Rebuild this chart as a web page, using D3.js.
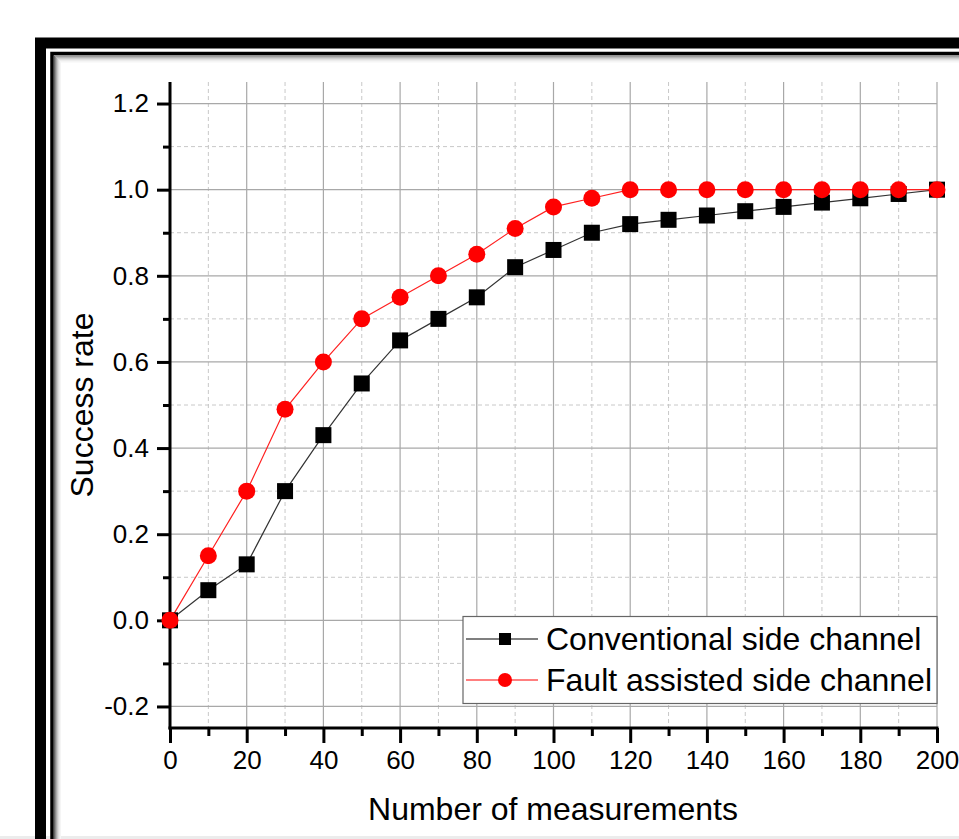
<!DOCTYPE html>
<html><head><meta charset="utf-8">
<script src="https://cdn.jsdelivr.net/npm/d3@7"></script>
<style>body{margin:0;background:#fff;}svg{display:block;font-family:Arial,"Liberation Sans",sans-serif;}</style>
</head><body>
<svg id="c" width="959" height="839"></svg>
<script>
const measurements = [0,10,20,30,40,50,60,70,80,90,100,110,120,130,140,150,160,170,180,190,200];
const conventional = [0,0.07,0.13,0.30,0.43,0.55,0.65,0.70,0.75,0.82,0.86,0.90,0.92,0.93,0.94,0.95,0.96,0.97,0.98,0.99,1.0];
const faultAssisted = [0,0.15,0.30,0.49,0.60,0.70,0.75,0.80,0.85,0.91,0.96,0.98,1.0,1.0,1.0,1.0,1.0,1.0,1.0,1.0,1.0];
const xTicks = [0,20,40,60,80,100,120,140,160,180,200];
const yTicks = [-0.2,0.0,0.2,0.4,0.6,0.8,1.0,1.2];
const seriesNames = ["Conventional side channel","Fault assisted side channel"];

const FONT = "Arial, 'Liberation Sans', sans-serif";
const svg = d3.select("#c");
svg.append("rect").attr("x",0).attr("y",836).attr("width",959).attr("height",3).attr("fill","#ececec");
svg.append("rect").attr("x",40.5).attr("y",43).attr("width",1000).attr("height",1000).attr("fill","none").attr("stroke","#000").attr("stroke-width",11);
svg.append("rect").attr("x",52).attr("y",53.5).attr("width",1000).attr("height",1000).attr("fill","none").attr("stroke","#000").attr("stroke-width",3.5);
const sh = ["#666","#8a8a8a","#aaa","#c6c6c6","#dcdcdc","#ebebeb","#f5f5f5"];
sh.forEach((c,i)=>{
  svg.append("rect").attr("x",54.5+i).attr("y",56+i).attr("width",1000).attr("height",1000).attr("fill","none").attr("stroke",c).attr("stroke-width",1);
});

const x = d3.scaleLinear().domain([0,200]).range([170,937]);
const y = d3.scaleLinear().domain([-0.25,1.25]).range([728,82]);

const g = svg.append("g");
const xMinor = d3.range(10,200,20);
const yMinor = d3.range(-0.1,1.25,0.2);
g.selectAll(".vm").data(xMinor).enter().append("line")
  .attr("x1",d=>x(d)).attr("x2",d=>x(d)).attr("y1",y(1.25)).attr("y2",y(-0.25))
  .attr("stroke","#c8c8c8").attr("stroke-dasharray","4,3").attr("stroke-width",1);
g.selectAll(".hm").data(yMinor).enter().append("line")
  .attr("y1",d=>y(d)).attr("y2",d=>y(d)).attr("x1",x(0)).attr("x2",x(200))
  .attr("stroke","#c8c8c8").attr("stroke-dasharray","4,3").attr("stroke-width",1);
g.selectAll(".vM").data(xTicks.slice(1)).enter().append("line")
  .attr("x1",d=>x(d)).attr("x2",d=>x(d)).attr("y1",y(1.25)).attr("y2",y(-0.25))
  .attr("stroke","#a8a8a8").attr("stroke-width",1.2);
g.selectAll(".hM").data(yTicks).enter().append("line")
  .attr("y1",d=>y(d)).attr("y2",d=>y(d)).attr("x1",x(0)).attr("x2",x(200))
  .attr("stroke","#a8a8a8").attr("stroke-width",1.2);

const fmtY = d => d3.format(".1f")(d).replace("\u2212","-");
const yAxis = d3.axisLeft(y).tickValues(yTicks).tickFormat(fmtY).tickSize(13).tickPadding(8);
const yAxisMinor = d3.axisLeft(y).tickValues(yMinor).tickFormat("").tickSize(7);
const xAxis = d3.axisBottom(x).tickValues(xTicks).tickFormat(d3.format("d")).tickSize(15).tickPadding(8);
const xAxisMinor = d3.axisBottom(x).tickValues(xMinor).tickFormat("").tickSize(8);

function style(sel){
  sel.attr("font-size",null).attr("font-family",null);
  sel.select(".domain").remove();
  sel.selectAll("line").attr("stroke","#000").attr("stroke-width",3);
  sel.selectAll("text").attr("fill","#000").style("font-size","26px").style("font-family",FONT);
}
svg.append("g").attr("transform",`translate(${x(0)},0)`).call(yAxis).call(style);
svg.append("g").attr("transform",`translate(${x(0)},0)`).call(yAxisMinor).call(style);
svg.append("g").attr("transform",`translate(0,${y(-0.25)})`).call(xAxis).call(style);
svg.append("g").attr("transform",`translate(0,${y(-0.25)})`).call(xAxisMinor).call(style);
svg.append("line").attr("x1",x(0)).attr("x2",x(0)).attr("y1",y(1.25)).attr("y2",y(-0.25)+1.5).attr("stroke","#000").attr("stroke-width",3);
svg.append("line").attr("x1",x(0)-1.5).attr("x2",x(200)+1.5).attr("y1",y(-0.25)).attr("y2",y(-0.25)).attr("stroke","#000").attr("stroke-width",3);

svg.append("text").attr("transform",`translate(93,${y(0.5)}) rotate(-90)`).attr("text-anchor","middle")
  .style("font-size","32px").style("font-family",FONT).attr("fill","#000").text("Success rate");
svg.append("text").attr("x",553).attr("y",820).attr("text-anchor","middle")
  .style("font-size","32px").style("font-family",FONT).attr("fill","#000").text("Number of measurements");

const line = d3.line().x((d,i)=>x(measurements[i])).y(d=>y(d));
svg.append("path").datum(conventional).attr("d",line).attr("fill","none").attr("stroke","#333").attr("stroke-width",1.2);
svg.append("path").datum(faultAssisted).attr("d",line).attr("fill","none").attr("stroke","#ff2020").attr("stroke-width",1.2);
svg.selectAll(".sq").data(conventional).enter().append("rect")
  .attr("x",(d,i)=>x(measurements[i])-8).attr("y",d=>y(d)-8).attr("width",16).attr("height",16).attr("fill","#000");
svg.selectAll(".ci").data(faultAssisted).enter().append("circle")
  .attr("cx",(d,i)=>x(measurements[i])).attr("cy",d=>y(d)).attr("r",8.5).attr("fill","#ff0000");

const lg = svg.append("g");
lg.append("rect").attr("x",463).attr("y",616.5).attr("width",474).attr("height",87).attr("fill","#fff").attr("stroke","#666").attr("stroke-width",1.2);
const rows = [639, 680];
lg.append("line").attr("x1",466).attr("x2",538).attr("y1",rows[0]).attr("y2",rows[0]).attr("stroke","#000").attr("stroke-width",1.2);
lg.append("rect").attr("x",499).attr("y",rows[0]-6).attr("width",12).attr("height",12).attr("fill","#000");
lg.append("line").attr("x1",466).attr("x2",538).attr("y1",rows[1]).attr("y2",rows[1]).attr("stroke","#ff0000").attr("stroke-width",1.2);
lg.append("circle").attr("cx",505).attr("cy",rows[1]).attr("r",7).attr("fill","#ff0000");
seriesNames.forEach((n,i)=>{
  lg.append("text").attr("x",546).attr("y",rows[i]+11).style("font-size","32px").style("font-family",FONT).attr("fill","#000").text(n);
});
</script>
</body></html>
